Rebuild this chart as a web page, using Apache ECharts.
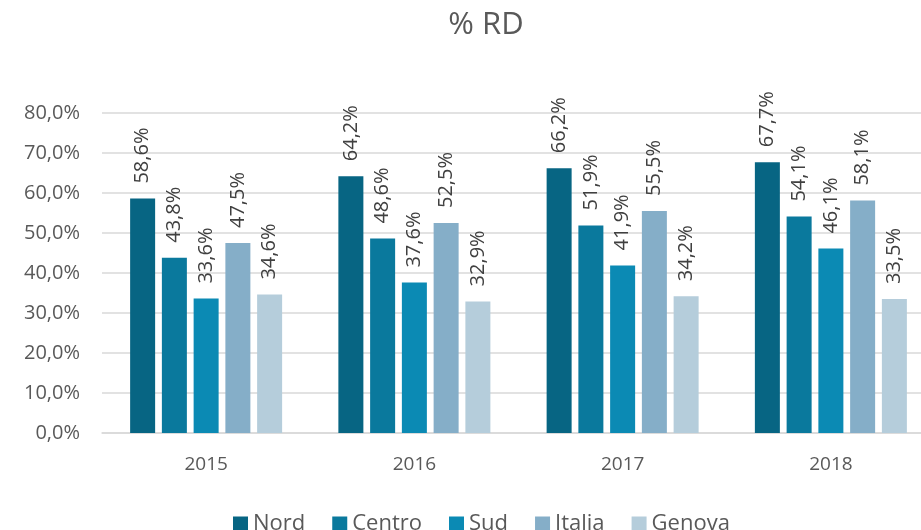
<!DOCTYPE html>
<html lang="it">
<head>
  <meta charset="UTF-8">
  <title>% RD</title>
  <script src="https://cdn.jsdelivr.net/npm/echarts@6/dist/echarts.min.js"></script>
  <style>
    html, body { margin: 0; padding: 0; background: #fff; }
    #chart { width: 921px; height: 530px; }
  </style>
</head>
<body>
  <div id="chart"></div>
  <script>
    const anni = ['2015', '2016', '2017', '2018'];
    const nord = [58.6, 64.2, 66.2, 67.7];
    const centro = [43.8, 48.6, 51.9, 54.1];
    const sud = [33.6, 37.6, 41.9, 46.1];
    const italia = [47.5, 52.5, 55.5, 58.1];
    const genova = [34.6, 32.9, 34.2, 33.5];

    const serie = [
      { name: 'Nord', data: nord, color: '#076583' },
      { name: 'Centro', data: centro, color: '#0a799d' },
      { name: 'Sud', data: sud, color: '#0b8ab4' },
      { name: 'Italia', data: italia, color: '#85aec8' },
      { name: 'Genova', data: genova, color: '#b5cddb' }
    ];

    // formato italiano: virgola decimale
    function perc(v) {
      return v.toFixed(1).replace('.', ',') + '%';
    }

    const font = '"Open Sans", sans-serif';
    const chart = echarts.init(document.getElementById('chart'));

    chart.setOption({
      animation: false,
      textStyle: { fontFamily: font },
      title: {
        text: '% RD',
        left: 481,
        top: 5,
        textAlign: 'center',
        textStyle: { fontSize: 31, fontWeight: 'normal', color: '#595959', fontFamily: font }
      },
      legend: {
        left: 228,
        top: 508,
        itemWidth: 15,
        itemHeight: 15,
        itemGap: 27,
        icon: 'rect',
        textStyle: { fontSize: 22, color: '#595959', fontFamily: font }
      },
      // il grafico originale è tagliato a destra
      grid: { left: 102, top: 113, width: 833, height: 320, outerBoundsMode: 'none' },
      xAxis: {
        type: 'category',
        data: anni,
        axisTick: { show: false },
        axisLine: { lineStyle: { color: '#d9d9d9', width: 1.5 } },
        axisLabel: { fontSize: 19, color: '#595959', margin: 22, fontFamily: font }
      },
      yAxis: {
        type: 'value',
        min: 0,
        max: 80,
        interval: 10,
        axisLine: { show: false },
        axisTick: { show: false },
        splitLine: { lineStyle: { color: '#d9d9d9', width: 1.5 } },
        axisLabel: { fontSize: 20, color: '#595959', margin: 22, formatter: perc, fontFamily: font }
      },
      series: serie.map(s => ({
        name: s.name,
        type: 'bar',
        data: s.data,
        barWidth: 25,
        barGap: '27%',
        itemStyle: { color: s.color },
        label: {
          show: true,
          position: 'top',
          rotate: 90,
          align: 'left',
          verticalAlign: 'middle',
          distance: 15,
          fontSize: 20,
          color: '#404040',
          fontFamily: font,
          formatter: p => perc(p.value)
        }
      }))
    });
  </script>
</body>
</html>
